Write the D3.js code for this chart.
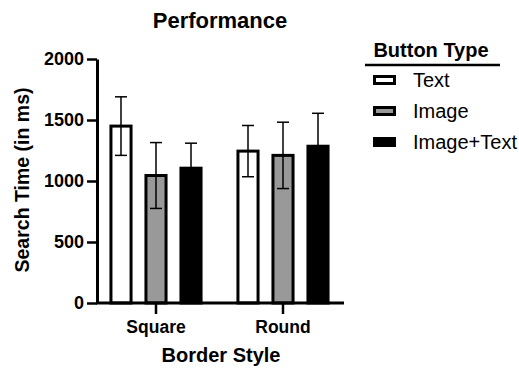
<!DOCTYPE html>
<html>
<head>
<meta charset="utf-8">
<script src="https://cdn.jsdelivr.net/npm/d3@7"></script>
<style>
  body { margin: 0; background: #fff; }
  text { font-family: "Liberation Sans", Arial, sans-serif; }
</style>
</head>
<body>
<div id="chart"></div>
<script>
const groups = ["Square", "Round"];
const series = ["Text", "Image", "Image+Text"];
const means = {
  "Square": [1450, 1045, 1105],
  "Round": [1245, 1210, 1285]
};
const errs = {
  "Square": [240, 270, 205],
  "Round": [210, 272, 270]
};
const fills = ["#ffffff", "#999999", "#000000"];
const yTicks = [0, 500, 1000, 1500, 2000];

const width = 519, height = 368;

const svg = d3.select("#chart").append("svg")
  .attr("width", width)
  .attr("height", height);

const y = d3.scaleLinear().domain([0, 2000]).range([303, 59]);

// group bands, one step of 127px each
const x0 = d3.scaleBand().domain(groups).range([92.5, 346.5]);
const x1 = d3.scaleBand().domain(series)
  .range([x0.bandwidth() / 2 - 52.5, x0.bandwidth() / 2 + 52.5])
  .paddingInner(0.34).paddingOuter(0.17);

// title
svg.append("text")
  .attr("x", 220).attr("y", 28)
  .attr("text-anchor", "middle")
  .style("font-size", "22px").style("font-weight", "bold")
  .text("Performance");

// bars
const g = svg.selectAll("g.group")
  .data(groups)
  .enter().append("g")
  .attr("class", "group")
  .attr("transform", (d) => "translate(" + x0(d) + ",0)");

const bar = g.selectAll("g.bar")
  .data((grp) => series.map((s, i) => ({ grp: grp, s: s, i: i, v: means[grp][i], e: errs[grp][i] })))
  .enter().append("g")
  .attr("class", "bar");

// error bars drawn first so the black bar hides its lower whisker
bar.append("line")
  .attr("x1", (d) => x1(d.s) + x1.bandwidth() / 2)
  .attr("x2", (d) => x1(d.s) + x1.bandwidth() / 2)
  .attr("y1", (d) => y(d.v - d.e))
  .attr("y2", (d) => y(d.v + d.e))
  .attr("stroke", "#000").attr("stroke-width", 1.5);

bar.append("rect")
  .attr("x", (d) => x1(d.s) + 1.5)
  .attr("width", x1.bandwidth() - 3)
  .attr("y", (d) => y(d.v))
  .attr("height", (d) => y(0) - y(d.v))
  .attr("fill", (d) => fills[d.i])
  .attr("stroke", "#000").attr("stroke-width", 3);

// whisker part inside the bar (visible on white/grey)
bar.filter((d) => d.i < 2).append("line")
  .attr("x1", (d) => x1(d.s) + x1.bandwidth() / 2)
  .attr("x2", (d) => x1(d.s) + x1.bandwidth() / 2)
  .attr("y1", (d) => y(d.v - d.e))
  .attr("y2", (d) => y(d.v))
  .attr("stroke", "#000").attr("stroke-width", 1.5);

[1, -1].forEach((sign) => {
  bar.filter((d) => sign > 0 || d.i < 2).append("line")
    .attr("x1", (d) => x1(d.s) + x1.bandwidth() / 2 - 6)
    .attr("x2", (d) => x1(d.s) + x1.bandwidth() / 2 + 6)
    .attr("y1", (d) => y(d.v + sign * d.e))
    .attr("y2", (d) => y(d.v + sign * d.e))
    .attr("stroke", "#000").attr("stroke-width", 1.5);
});

// y axis
const yAxis = svg.append("g")
  .attr("transform", "translate(97,0)")
  .call(d3.axisLeft(y).tickValues(yTicks).tickSize(10).tickSizeOuter(0).tickFormat(d3.format("d")));
yAxis.select(".domain").attr("stroke-width", 3);
yAxis.selectAll(".tick line").attr("stroke-width", 2.5);
yAxis.selectAll(".tick text")
  .attr("x", -13)
  .style("font-size", "18px").style("font-weight", "bold")
  .style("font-family", "Liberation Sans, Arial, sans-serif")
  .attr("fill", "#000");

// x axis
svg.append("line")
  .attr("x1", 96).attr("x2", 344)
  .attr("y1", y(0)).attr("y2", y(0))
  .attr("stroke", "#000").attr("stroke-width", 3);
const xAxis = svg.append("g")
  .attr("transform", "translate(0," + y(0) + ")")
  .call(d3.axisBottom(x0).tickSize(11).tickSizeOuter(0));
xAxis.select(".domain").remove();
xAxis.selectAll(".tick line").attr("stroke-width", 2.5);
xAxis.selectAll(".tick text")
  .attr("y", 18)
  .style("font-size", "17.5px").style("font-weight", "bold")
  .style("font-family", "Liberation Sans, Arial, sans-serif")
  .attr("fill", "#000");

// axis titles
svg.append("text")
  .attr("transform", "translate(29,180) rotate(-90)")
  .attr("text-anchor", "middle")
  .style("font-size", "19.5px").style("font-weight", "bold")
  .text("Search Time (in ms)");

svg.append("text")
  .attr("x", 221).attr("y", 362)
  .attr("text-anchor", "middle")
  .style("font-size", "20px").style("font-weight", "bold")
  .text("Border Style");

// legend
const legend = svg.append("g");
legend.append("text")
  .attr("x", 431).attr("y", 57)
  .attr("text-anchor", "middle")
  .style("font-size", "20px").style("font-weight", "bold")
  .text("Button Type");
legend.append("line")
  .attr("x1", 365).attr("x2", 500)
  .attr("y1", 65).attr("y2", 65)
  .attr("stroke", "#000").attr("stroke-width", 2.5);

const item = legend.selectAll("g.item")
  .data(series)
  .enter().append("g")
  .attr("class", "item")
  .attr("transform", (d, i) => "translate(0," + (80 + i * 31) + ")");
item.append("rect")
  .attr("x", 374.5).attr("y", -3.5)
  .attr("width", 20).attr("height", 7)
  .attr("fill", (d, i) => fills[i])
  .attr("stroke", "#000").attr("stroke-width", 3);
item.append("text")
  .attr("x", 413).attr("y", 7)
  .style("font-size", "20px")
  .text((d) => d);
</script>
</body>
</html>
